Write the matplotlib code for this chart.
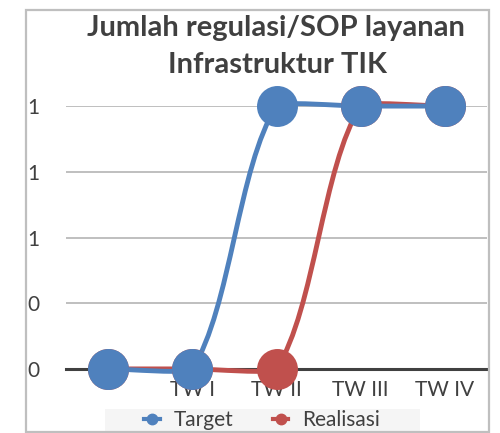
import matplotlib
matplotlib.use('Agg')
import matplotlib.pyplot as plt
from matplotlib.path import Path
from matplotlib.patches import PathPatch, Rectangle
from matplotlib.lines import Line2D
import numpy as np

categories = ["", "TW I", "TW II", "TW III", "TW IV"]
target = [0, 0, 1, 1, 1]
realisasi = [0, 0, 0, 1, 1]
y_ticks = [0, 0.25, 0.5, 0.75, 1]
y_tick_labels = ["0", "0", "1", "1", "1"]

BLUE = "#4F81BD"
RED = "#C0504D"
TEXT = "#404040"

plt.rcParams['font.family'] = ['Lato', 'DejaVu Sans']

# plot area size in pixels, used to make the smoothing look like Excel's
AX_RECT = [0.132, 0.148, 0.842, 0.607]
SX = AX_RECT[2] * 500 / 5.0
SY = AX_RECT[3] * 433 / 1.0


def smooth_path(values, s=0.25):
    # cubic bezier through every point, tangent split by chord length
    pts = np.array([(i * SX, v * SY) for i, v in enumerate(values)], float)
    n = len(pts)
    ctrl_out, ctrl_in = [], []
    for i in range(n):
        p_prev = pts[max(i - 1, 0)]
        p_next = pts[min(i + 1, n - 1)]
        d_in = np.hypot(*(pts[i] - p_prev))
        d_out = np.hypot(*(p_next - pts[i]))
        tang = p_next - p_prev
        tot = d_in ** 2 + d_out ** 2
        ctrl_out.append(pts[i] + tang * s * d_out ** 2 / tot)
        ctrl_in.append(pts[i] - tang * s * d_in ** 2 / tot)
    verts = [pts[0]]
    codes = [Path.MOVETO]
    for i in range(n - 1):
        verts += [ctrl_out[i], ctrl_in[i + 1], pts[i + 1]]
        codes += [Path.CURVE4] * 3
    verts = np.array(verts) / [SX, SY]
    return Path(verts, codes)


fig = plt.figure(figsize=(5, 4.33), dpi=100)
ax = fig.add_axes(AX_RECT)

# border of the chart area
fig.patches.append(Rectangle((26 / 500, 1 - 432 / 433), 463 / 500, 422 / 433,
                             transform=fig.transFigure, fill=False,
                             edgecolor="#BFBFBF", linewidth=1.6, zorder=10))
# legend background
fig.patches.append(Rectangle((105 / 500, 0), 315 / 500, 24 / 433,
                             transform=fig.transFigure, facecolor="#F5F5F5",
                             edgecolor="none", zorder=0))

x = list(range(len(categories)))
for vals, col in [(realisasi, RED), (target, BLUE)]:
    ax.add_patch(PathPatch(smooth_path(vals), fill=False, edgecolor=col,
                           linewidth=3.5, capstyle='round', zorder=3,
                           clip_on=False))
ax.plot(x, realisasi, linestyle='none', marker='o', markersize=29.5,
        color=RED, markeredgewidth=0, zorder=4, clip_on=False)
ax.plot(x, target, linestyle='none', marker='o', markersize=29.5,
        color=BLUE, markeredgewidth=0, zorder=5, clip_on=False)

ax.set_xlim(-0.5, 4.5)
ax.set_ylim(0, 1)
ax.set_xticks(x)
ax.set_xticklabels(categories, fontsize=15, color=TEXT)
ax.set_yticks(y_ticks)
ax.set_yticklabels(y_tick_labels, fontsize=15, color=TEXT)
ax.tick_params(axis='x', length=0, pad=8)
ax.tick_params(axis='y', length=0, pad=19)
ax.grid(axis='y', color="#BFBFBF", linewidth=1.4)
ax.set_axisbelow(True)
for side in ['top', 'right', 'left']:
    ax.spines[side].set_visible(False)
ax.spines['bottom'].set_color(TEXT)
ax.spines['bottom'].set_linewidth(2.2)
ax.spines['bottom'].set_zorder(2.5)

fig.text(0.552, 1 - 36 / 433, "Jumlah regulasi/SOP layanan",
         ha='center', va='baseline', fontsize=21, fontweight='bold',
         color=TEXT)
fig.text(0.554, 1 - 73 / 433, "Infrastruktur TIK",
         ha='center', va='baseline', fontsize=21, fontweight='bold',
         color=TEXT)

handles = [Line2D([], [], color=BLUE, lw=3, marker='o', markersize=7.5),
           Line2D([], [], color=RED, lw=3, marker='o', markersize=7.5)]
leg = fig.legend(handles, ["Target", "Realisasi"], loc='center',
                 bbox_to_anchor=(262 / 500, 1 - 420 / 433), ncol=2,
                 fontsize=15, frameon=False, handlelength=0.75,
                 columnspacing=1.9, borderpad=0.1, handletextpad=0.65)
for t in leg.get_texts():
    t.set_color(TEXT)

fig.savefig("out.png", dpi=100)
